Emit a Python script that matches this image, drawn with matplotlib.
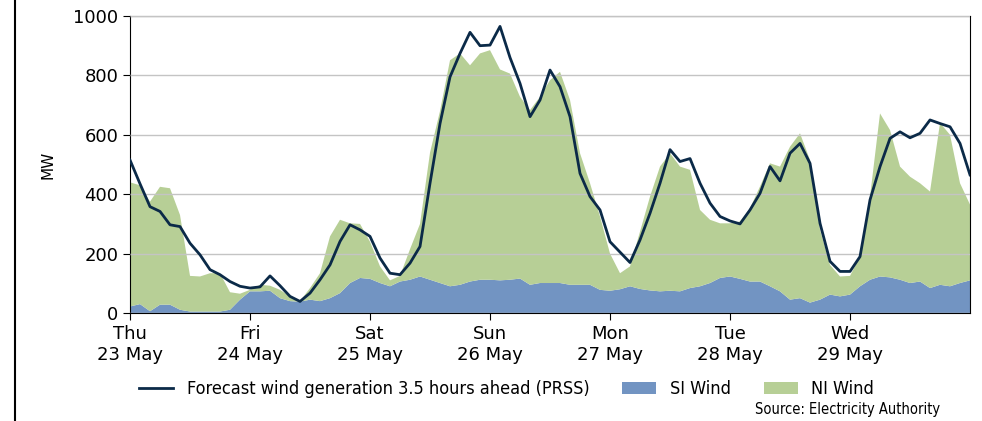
import numpy as np
import matplotlib.pyplot as plt
from matplotlib.lines import Line2D

# values read every 2 hours (MW)
hours = np.arange(0, 169, 2)

si_wind = [22, 30, 6, 28, 28, 11, 5, 5, 5, 5, 11, 45,
           73, 73, 75, 50, 40, 38, 45, 40, 50, 67, 101, 118,
           115, 101, 90, 106, 112, 123, 112, 101, 90, 95, 106, 112,
           112, 110, 112, 116, 95, 101, 101, 101, 95, 95, 95, 78,
           75, 80, 90, 81, 76, 73, 75, 73, 84, 90, 101, 118,
           123, 115, 106, 106, 90, 73, 45, 50, 35, 45, 62, 56,
           62, 90, 112, 123, 120, 112, 101, 106, 84, 95, 90, 101, 110]

ni_wind = [418, 400, 369, 397, 392, 319, 120, 118, 129, 129, 59, 20,
           5, 22, 17, 28, 16, 2, 39, 94, 208, 247, 201, 182,
           125, 56, 20, 19, 103, 177, 428, 579, 761, 779, 728, 762,
           773, 710, 694, 612, 588, 627, 683, 711, 622, 443, 342, 247,
           125, 54, 67, 193, 316, 420, 463, 420, 398, 257, 213, 184,
           179, 193, 247, 320, 414, 420, 515, 555, 480, 235, 100, 67,
           63, 100, 280, 549, 496, 381, 358, 331, 325, 545, 510, 336, 255]

forecast = [515, 435, 358, 342, 297, 291, 235, 196, 146, 129, 106, 90,
            84, 88, 125, 92, 56, 39, 67, 112, 162, 241, 297, 280,
            258, 185, 134, 129, 168, 224, 437, 638, 795, 874, 945, 900,
            902, 965, 860, 773, 661, 717, 818, 762, 661, 470, 392, 347,
            240, 205, 170, 246, 336, 437, 550, 510, 520, 437, 370, 325,
            310, 300, 347, 403, 493, 445, 538, 571, 504, 302, 174, 140,
            140, 190, 381, 493, 588, 610, 590, 605, 650, 638, 627, 571, 465]

day_ticks = [0, 24, 48, 72, 96, 120, 144]
day_labels = ['Thu\n23 May', 'Fri\n24 May', 'Sat\n25 May', 'Sun\n26 May',
              'Mon\n27 May', 'Tue\n28 May', 'Wed\n29 May']

blue = '#7294c2'
green = '#b7cf96'
navy = '#0b2a48'

fig = plt.figure(figsize=(9.82, 4.21), dpi=100)
ax = fig.add_axes([0.1324, 0.2565, 0.8554, 0.7055])

ax.stackplot(hours, si_wind, ni_wind, colors=[blue, green],
             labels=['SI Wind', 'NI Wind'], lw=0)
ax.plot(hours, forecast, color=navy, lw=2.0, zorder=3,
        label='Forecast wind generation 3.5 hours ahead (PRSS)')

ax.set_xlim(0, 168)
ax.set_ylim(0, 1000)
ax.set_yticks(range(0, 1001, 200))
ax.set_xticks(day_ticks)
ax.set_xticklabels(day_labels)
ax.tick_params(labelsize=13, length=5)
ax.yaxis.grid(True, color='#c4c4c4', lw=1)
ax.set_axisbelow(False)
ax.set_ylabel('MW', fontsize=11, labelpad=13)

# legend in a narrow font, like the source
leg_font = {'family': ['DejaVu Sans'], 'stretch': 'condensed', 'size': 13}
h, l = ax.get_legend_handles_labels()
order = [2, 0, 1]
fig.legend([h[i] for i in order], [l[i] for i in order], loc='center',
           bbox_to_anchor=(0.516, 0.076), ncol=3, frameon=False, prop=leg_font,
           handlelength=1.9, handleheight=0.65, handletextpad=0.75, columnspacing=1.8)
fig.text(0.957, 0.028, 'Source: Electricity Authority', ha='right', va='center',
         fontsize=10.5, family='DejaVu Sans', stretch='condensed')

# border line at the left of the image
fig.add_artist(Line2D([15 / 982, 15 / 982], [0, 1], color='black', lw=1.5))

fig.savefig('out.png', dpi=100)
